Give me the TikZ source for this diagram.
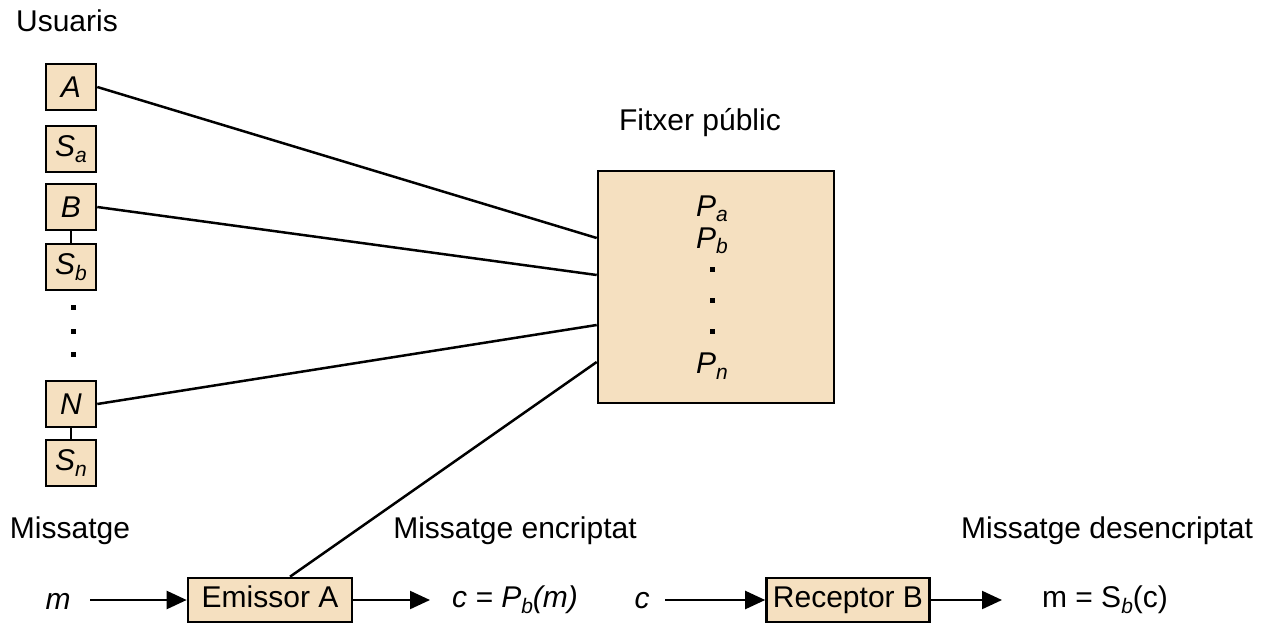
\documentclass[tikz,border=0pt]{standalone}
\usepackage{fontspec}
\setmainfont{Liberation Sans}
\usetikzlibrary{arrows.meta}
\definecolor{tan}{RGB}{245,224,192}
\newcommand{\sbs}[1]{\raisebox{-0.35ex}{\fontsize{21}{21}\selectfont\itshape #1}}
\begin{document}
\begin{tikzpicture}[x=1pt,y=-1pt,
  every node/.style={font=\fontsize{30}{34}\selectfont, inner sep=0pt},
  ubox/.style={draw=black, line width=2.6pt, fill=tan, minimum width=50pt, minimum height=46pt},
  pbox/.style={draw=black, line width=2.6pt, fill=tan, minimum width=163pt, minimum height=44pt, text height=21pt, text depth=6pt},
  link/.style={line width=2.5pt},
  arr/.style={line width=2.2pt, -{Triangle[length=20pt,width=18pt]}},
  dot/.style={fill=black, minimum size=5pt, draw=none}]
\useasboundingbox (0,0) rectangle (1269,624);
% titles
\node (usu) at (67,21) {Usuaris};
\node (fpt) at (700,123) {Fitxer públic};
\node (mt1) at (70,531) {Missatge};
\node (mt2) at (515,531) {Missatge encriptat};
\node (mt3) at (1107,531) {Missatge desencriptat};
% user boxes
\node[ubox] (A) at (71,87) {\itshape A};
\node[ubox] (Sa) at (71,149) {\itshape S\sbs{a}};
\node[ubox] (B) at (71,207) {\itshape B};
\node[ubox] (Sb) at (71,267) {\itshape S\sbs{b}};
\node[dot] (d1) at (73,307) {};
\node[dot] (d2) at (73,331) {};
\node[dot] (d3) at (73,354) {};
\node[ubox] (N) at (71,404) {\itshape N};
\node[ubox] (Sn) at (71,463) {\itshape S\sbs{n}};
\draw[link] (B) -- (Sb);
\draw[link] (N) -- (Sn);
% public file
\node[draw=black, line width=2.6pt, fill=tan, minimum width=236pt, minimum height=232pt] (F) at (716,287) {};
\node (Pa) at (712,209) {\itshape P\sbs{a}};
\node (Pb) at (712,241) {\itshape P\sbs{b}};
\node[dot] (e1) at (712,269) {};
\node[dot] (e2) at (712,300) {};
\node[dot] (e3) at (712,331) {};
\node (Pn) at (712,366) {\itshape P\sbs{n}};
% bottom row
\node (m) at (58,601) {\itshape m};
\node[pbox, minimum width=164pt] (E) at (270,600) {Emissor A};
\node (cp) at (515,600) {\itshape c = P\sbs{b}(m)};
\node (c) at (642,601) {\itshape c};
\node[pbox] (R) at (848,600) {Receptor B};
\node (ms) at (1105,600) {m = S\sbs{b}(c)};
\coordinate (m0) at (90,600);
\coordinate (c0) at (665,600);
\coordinate (e1e) at (430,600);
\coordinate (r1e) at (1002,600);
\draw[arr] (m0) -- (E.west);
\draw[arr] (E.east) -- (e1e);
\draw[arr] (c0) -- (R.west);
\draw[arr] (R.east) -- (r1e);
% links to public file
\draw[link] (A.east) -- ([yshift=49pt]F.west);
\draw[link] (B.east) -- ([yshift=12pt]F.west);
\draw[link] (N.east) -- ([yshift=-38pt]F.west);
\draw[link] ([xshift=20pt]E.north) -- ([yshift=-75pt]F.west);
\end{tikzpicture}
\end{document}
